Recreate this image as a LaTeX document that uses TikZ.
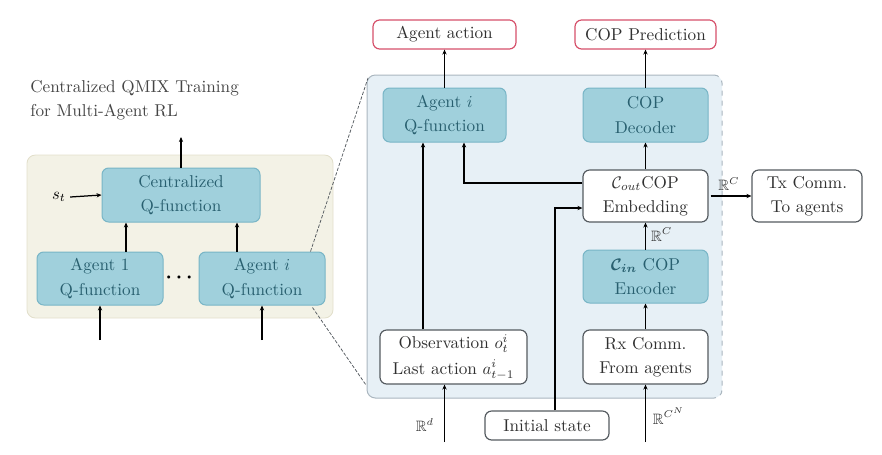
\documentclass[tikz,border=0pt]{standalone}
\usepackage{amsmath,amssymb}
\usetikzlibrary{arrows.meta,calc}
\definecolor{tealfill}{HTML}{A0D0DC}
\definecolor{tealdraw}{HTML}{78B5C6}
\definecolor{tealtext}{HTML}{285F6F}
\definecolor{redbd}{HTML}{D6506A}
\definecolor{graybd}{HTML}{555B60}
\definecolor{panelL}{HTML}{F3F2E6}
\definecolor{panelLbd}{HTML}{E2DFCB}
\definecolor{panelR}{HTML}{E7F0F6}
\definecolor{panelRbd}{HTML}{AAB6BF}
\definecolor{txt}{HTML}{303030}
\tikzset{
  tbox/.style={draw=tealdraw, fill=tealfill, rounded corners=4pt, line width=0.6pt,
    text=tealtext, align=center, inner sep=0pt, font=\fontsize{10.3}{14.5}\selectfont},
  wbox/.style={draw=graybd, fill=white, rounded corners=4pt, line width=0.7pt,
    text=txt, align=center, inner sep=0pt, font=\fontsize{10.3}{14.5}\selectfont},
  rbox/.style={draw=redbd, fill=white, rounded corners=4pt, line width=0.7pt,
    text=txt, align=center, inner sep=0pt, font=\fontsize{10.3}{14.5}\selectfont},
  arr/.style={-{Stealth[length=3pt,width=2.6pt]}, line width=0.75pt, black},
  zoomline/.style={draw=graybd, line width=0.45pt, dash pattern=on 2pt off 1pt},
  lbl/.style={text=txt, font=\fontsize{9}{10}\selectfont, inner sep=0pt}
}
\begin{document}
\begin{tikzpicture}[x=0.6pt,y=-0.6pt]
\useasboundingbox (0,0) rectangle (882,454);
% left panel
\fill[panelL, draw=panelLbd, line width=0.5pt, rounded corners=5pt] (27,155) rectangle (333,318);
\node[anchor=west, text=txt!90, align=left, font=\fontsize{10.3}{14.5}\selectfont, inner sep=0pt] (title) at (30,100) {Centralized QMIX Training\\for Multi-Agent RL};
\node[tbox, minimum width=94.8pt, minimum height=32.4pt] (cq) at (181,195) {Centralized\\Q-function};
\node[tbox, minimum width=75.6pt, minimum height=31.8pt] (a1) at (100,278.5) {Agent 1\\Q-function};
\node[tbox, minimum width=75.6pt, minimum height=31.8pt] (ai) at (262,278.5) {Agent $i$\\Q-function};
\node[inner sep=0pt, text=black, font=\bfseries\fontsize{12}{12}\selectfont] (dots) at (181,278) {$\boldsymbol{\cdots}$};
\node[lbl, text=black, font=\fontsize{10}{10}\selectfont] (st) at (59,197) {$s_t$};
\coordinate (cqout) at (181,137);
\coordinate (a1in) at (100,340);
\coordinate (aiin) at (262,340);
\draw[arr] (cq.north) -- (cqout);
\draw[arr] (st.east) ++(4,0) -- (cq.west);
\draw[arr] ($(a1.north)+(26,0)$) -- ($(cq.south)+(-55,0)$);
\draw[arr] ($(ai.north)+(-25,0)$) -- ($(cq.south)+(56,0)$);
\draw[arr] (a1in) -- (a1.south);
\draw[arr] (aiin) -- (ai.south);
% right panel
\fill[panelR, rounded corners=5pt] (367,75) rectangle (722,398);
\draw[panelRbd, line width=0.6pt, rounded corners=5pt] (714,398) -- (367,398) -- (367,75) -- (714,75);
\draw[panelRbd, line width=0.6pt, dashed] (714,75) arc (-90:0:8) -- (722,390) arc (0:90:8);
% zoom lines
\coordinate (zt) at (368,78);
\coordinate (zb) at (366,385);
\draw[zoomline] ($(ai.north east)+(-15,0)$) -- (zt);
\draw[zoomline] ($(ai.south east)+(-13,2)$) -- (zb);
% right nodes
\node[rbox, minimum width=85.8pt, minimum height=17.4pt] (act) at (444.5,34.5) {Agent action};
\node[rbox, minimum width=84.6pt, minimum height=17.4pt] (pred) at (645.5,34.5) {COP Prediction};
\node[tbox, minimum width=73.8pt, minimum height=32.4pt] (aq) at (444.5,115) {Agent $i$\\Q-function};
\node[tbox, minimum width=75pt, minimum height=32.4pt] (dec) at (645.5,115) {COP\\Decoder};
\node[wbox, minimum width=75pt, minimum height=31.2pt] (emb) at (645.5,196) {$\mathcal{C}_{out}$COP\\Embedding};
\node[wbox, minimum width=66pt, minimum height=31.2pt] (tx) at (807,196) {Tx Comm.\\To agents};
\node[tbox, minimum width=75pt, minimum height=31.8pt] (enc) at (645.5,276.5) {$\boldsymbol{\mathcal{C}_{in}}$ COP\\Encoder};
\node[wbox, minimum width=88.2pt, minimum height=32.4pt, font=\fontsize{10.3}{15.5}\selectfont] (obs) at (453.5,357) {Observation $o_t^i$\\Last action $a_{t-1}^i$};
\node[wbox, minimum width=75pt, minimum height=32.4pt] (rx) at (645.5,357) {Rx Comm.\\From agents};
\node[wbox, minimum width=74.4pt, minimum height=17.4pt] (init) at (547,425.5) {Initial state};
\coordinate (obsin) at (444.5,442);
\coordinate (rxin) at (645.5,442);
% connectors
\draw[arr] (aq.north) -- (act.south);
\draw[arr] (dec.north) -- (pred.south);
\draw[arr] (emb.north) -- (dec.south);
\draw[arr] (enc.north) -- node[lbl, right=3pt, pos=0.55] {$\mathbb{R}^C$} (emb.south);
\draw[arr] (rx.north) -- (enc.south);
\draw[arr] (rxin) -- node[lbl, right=4pt, pos=0.45] {$\mathbb{R}^{C^N}$} (rx.south);
\draw[arr] (obsin) -- node[lbl, left=6pt, pos=0.3] {$\mathbb{R}^d$} (obsin |- obs.south);
\draw[arr] ($(obs.north)+(-30.5,0)$) -- ($(aq.south)+(-21.5,0)$);
\draw[arr] ($(emb.west)+(0,-13)$) -| ($(aq.south)+(19.5,0)$);
\draw[arr] (init.north -| 555,0) |- ($(emb.west)+(0,12)$);
\draw[arr] (emb.east) ++(2,0) -- node[lbl, above=3pt, pos=0.45] {$\mathbb{R}^C$} (tx.west);
\end{tikzpicture}
\end{document}
